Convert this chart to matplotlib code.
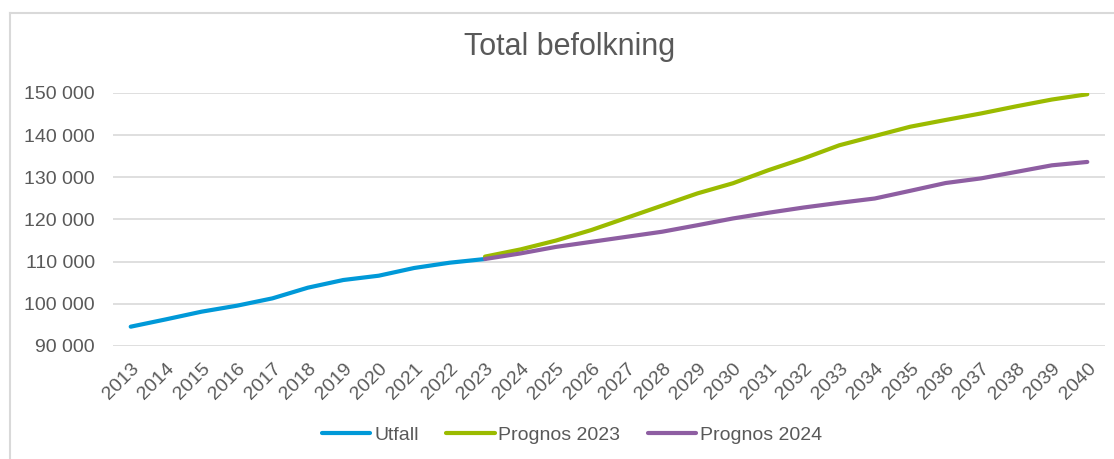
import matplotlib
matplotlib.use("Agg")
import matplotlib.pyplot as plt
from matplotlib.lines import Line2D
from matplotlib.ticker import FuncFormatter

years = list(range(2013, 2041))
year_labels = [str(y) for y in years]

utfall_years = list(range(2013, 2024))
utfall = [94580, 96330, 98140, 99560, 101300, 103830, 105650, 106670, 108500, 109750, 110630]

prog23_years = list(range(2023, 2041))
prognos_2023 = [111200, 112900, 115000, 117500, 120400, 123300, 126200, 128600, 131700,
                134500, 137600, 139800, 142000, 143600, 145150, 146850, 148450, 149700]

prog24_years = list(range(2023, 2041))
prognos_2024 = [110630, 111950, 113500, 114700, 115900, 117100, 118650, 120250, 121600,
                122850, 123950, 124980, 126800, 128650, 129750, 131300, 132850, 133650]

plt.rcParams['font.family'] = ['Liberation Sans', 'DejaVu Sans']
text_color = '#595959'
grid_color = '#d9d9d9'

fig = plt.figure(figsize=(11.14, 4.59), dpi=100)
W, H = 1114, 459
ax = fig.add_axes([113 / W, 1 - 346 / H, (1105 - 113) / W, (346 - 93) / H])

idx = {y: i for i, y in enumerate(years)}
ax.plot([idx[y] for y in utfall_years], utfall, color='#0099D8', lw=3.0,
        solid_capstyle='round', solid_joinstyle='round', label='Utfall', zorder=3)
ax.plot([idx[y] for y in prog23_years], prognos_2023, color='#9BBB00', lw=3.0,
        solid_capstyle='round', solid_joinstyle='round', label='Prognos 2023', zorder=3)
ax.plot([idx[y] for y in prog24_years], prognos_2024, color='#8E5EA2', lw=3.0,
        solid_capstyle='round', solid_joinstyle='round', label='Prognos 2024', zorder=4)

ax.set_xlim(-0.5, len(years) - 0.5)
ax.set_ylim(90000, 150000)
ax.set_yticks(range(90000, 150001, 10000))
ax.yaxis.set_major_formatter(FuncFormatter(lambda v, p: f"{int(v):,}".replace(",", " ")))
ax.set_xticks(range(len(years)))
ax.set_xticklabels(year_labels, rotation=45, ha='right', rotation_mode='anchor')

ax.grid(axis='y', color=grid_color, lw=1.2)
ax.set_axisbelow(True)
for s in ax.spines.values():
    s.set_visible(False)
ax.tick_params(axis='both', length=0, colors=text_color, labelsize=14)
ax.tick_params(axis='y', pad=13)
ax.tick_params(axis='x', pad=10)

fig.text(570 / W, 1 - 55 / H, 'Total befolkning', ha='center', va='baseline',
         fontsize=22, color=text_color)

leg = fig.legend(loc='center', bbox_to_anchor=(572 / W, 1 - 435 / H), ncol=3,
                 frameon=False, fontsize=14, handlelength=2.5, handletextpad=0.2,
                 columnspacing=1.4)
for t in leg.get_texts():
    t.set_color(text_color)

# outer chart border (left and top visible)
fig.add_artist(Line2D([10 / W, 10 / W], [0, 1 - 13 / H], color=grid_color, lw=1.5,
                      transform=fig.transFigure))
fig.add_artist(Line2D([10 / W, 1], [1 - 13 / H, 1 - 13 / H], color=grid_color, lw=1.5,
                      transform=fig.transFigure))

fig.savefig('out.png', dpi=100, facecolor='white')
